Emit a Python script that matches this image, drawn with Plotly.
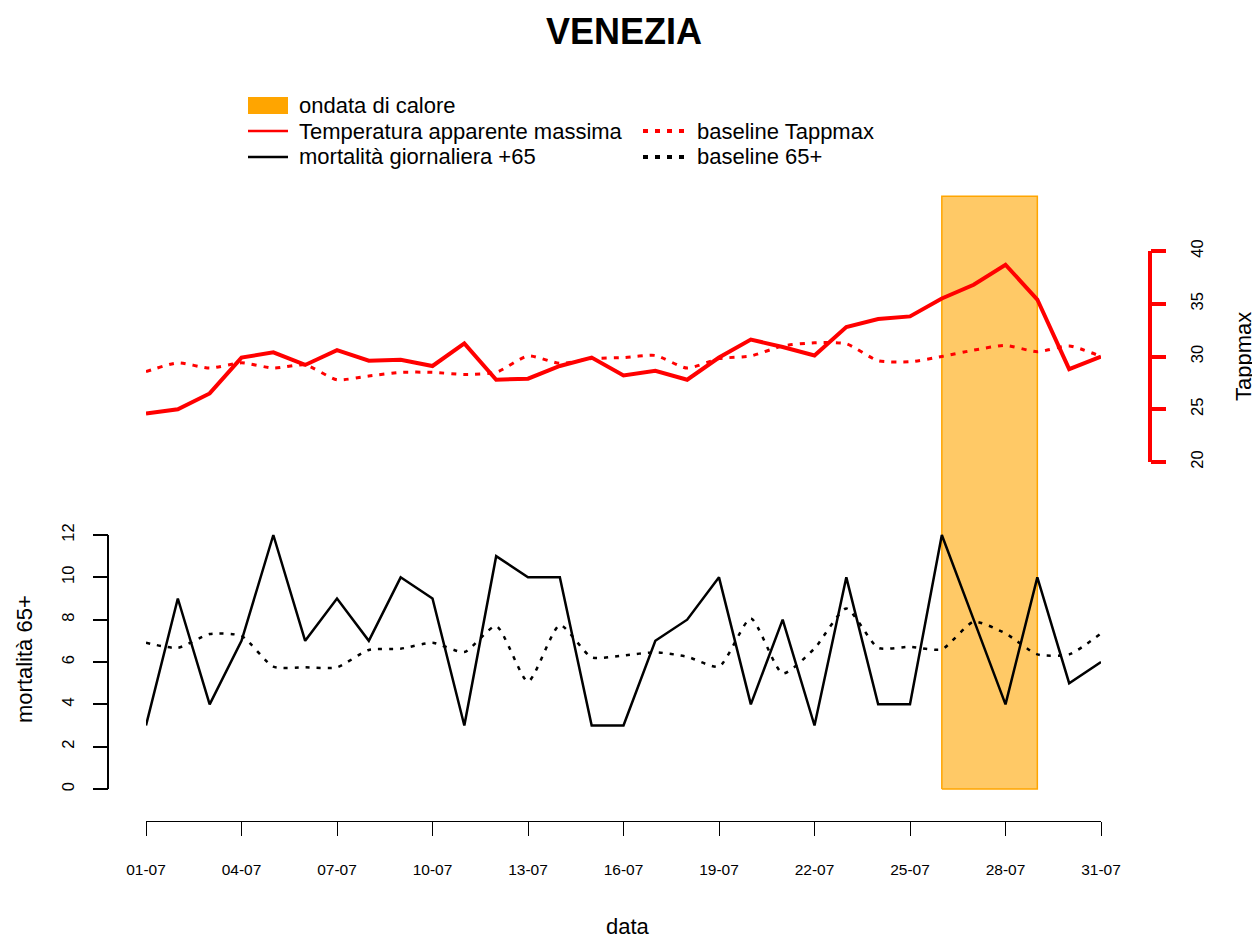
import plotly.graph_objects as go

# giorni di luglio
giorni = list(range(1, 32))
tick_giorni = [1, 4, 7, 10, 13, 16, 19, 22, 25, 28, 31]
tick_labels = ["01-07", "04-07", "07-07", "10-07", "13-07", "16-07",
               "19-07", "22-07", "25-07", "28-07", "31-07"]

# temperatura apparente massima e baseline
tappmax = [24.6, 25.0, 26.5, 29.9, 30.4, 29.2, 30.6, 29.6, 29.7, 29.1, 31.25,
           27.8, 27.9, 29.1, 29.9, 28.2, 28.65, 27.8, 29.9, 31.6, 30.9, 30.1,
           32.8, 33.55, 33.8, 35.5, 36.8, 38.7, 35.4, 28.8, 30.0]
baseline_tappmax = [28.56, 29.4, 28.9, 29.4, 28.9, 29.2, 27.8, 28.15, 28.5, 28.5,
                    28.3, 28.5, 30.05, 29.35, 29.8, 29.9, 30.1, 28.9, 29.8, 30.05,
                    31.0, 31.3, 31.2, 29.6, 29.5, 30.0, 30.6, 31.05, 30.45, 31.0, 30.0]

# mortalità giornaliera 65+ e baseline
mortalita = [3, 9, 4, 7, 12, 7, 9, 7, 10, 9, 3, 11, 10, 10, 3, 3, 7, 8, 10, 4,
             8, 3, 10, 4, 4, 12, 8, 4, 10, 5, 6]
baseline_65 = [6.91, 6.67, 7.32, 7.23, 5.78, 5.75, 5.75, 6.57, 6.63, 6.91, 6.47,
               7.7, 5.07, 7.75, 6.22, 6.31, 6.46, 6.25, 5.78, 8.06, 5.46, 6.64,
               8.53, 6.67, 6.72, 6.6, 7.9, 7.35, 6.36, 6.36, 7.35]

# ondata di calore (giorni), altezza in scala mortalità
ondata_inizio = 26
ondata_fine = 29
ondata_top = 28

mort_ticks = [0, 2, 4, 6, 8, 10, 12]
temp_ticks = [20, 25, 30, 35, 40]

FONT = "Liberation Sans, Arial, sans-serif"

# la pagina ha un margine di 8px: la figura parte da (8, 8)
OFF = 8
W, H = 1260 - OFF, 938 - OFF
L, R = 108 - OFF, 1150 - OFF
T, B = 190 - OFF, 821 - OFF


def px_x(x):
    return (x - OFF - L) / (R - L)


def px_y(y):
    return (B - (y - OFF)) / (B - T)


# scale verticali: 0 -> 789px, 12 -> 535px ; 20 -> 462px, 40 -> 251px
s_m = (789 - 535) / 12
rng_m = [-(B - (789 - OFF)) / s_m, ((789 - OFF) - T) / s_m]
s_t = (462 - 251) / 20
rng_t = [20 - (B - (462 - OFF)) / s_t, 20 + ((462 - OFF) - T) / s_t]

fig = go.Figure()

# rettangolo ondata di calore
fig.add_trace(go.Scatter(
    x=[ondata_inizio, ondata_inizio, ondata_fine, ondata_fine, ondata_inizio],
    y=[0, ondata_top, ondata_top, 0, 0],
    fill="toself", fillcolor="rgba(255,165,0,0.6)",
    line=dict(color="orange", width=1.5), mode="lines",
    yaxis="y", showlegend=False, hoverinfo="skip"
))

fig.add_trace(go.Scatter(
    x=giorni, y=baseline_65, mode="lines", yaxis="y",
    line=dict(color="black", width=2.5, dash="4px,7px", shape="spline", smoothing=0.6),
    name="baseline 65+", showlegend=False
))
fig.add_trace(go.Scatter(
    x=giorni, y=mortalita, mode="lines", yaxis="y",
    line=dict(color="black", width=2.5),
    name="mortalità giornaliera +65", showlegend=False
))
fig.add_trace(go.Scatter(
    x=giorni, y=baseline_tappmax, mode="lines", yaxis="y2",
    line=dict(color="red", width=3, dash="5px,7px", shape="spline", smoothing=0.6),
    name="baseline Tappmax", showlegend=False
))
fig.add_trace(go.Scatter(
    x=giorni, y=tappmax, mode="lines", yaxis="y2",
    line=dict(color="red", width=4),
    name="Temperatura apparente massima", showlegend=False
))

shapes = [
    # linee degli assi y (solo fra il primo e l'ultimo tick, stile R)
    dict(type="line", xref="paper", yref="y", x0=0, x1=0,
         y0=mort_ticks[0], y1=mort_ticks[-1], line=dict(color="black", width=2)),
    dict(type="line", xref="paper", yref="y2", x0=1, x1=1,
         y0=temp_ticks[0], y1=temp_ticks[-1], line=dict(color="red", width=4)),
    # legenda
    dict(type="rect", xref="paper", yref="paper",
         x0=px_x(248), x1=px_x(288), y0=px_y(114), y1=px_y(97),
         fillcolor="orange", line=dict(width=0)),
    dict(type="line", xref="paper", yref="paper",
         x0=px_x(248), x1=px_x(288), y0=px_y(131), y1=px_y(131),
         line=dict(color="red", width=2.5)),
    dict(type="line", xref="paper", yref="paper",
         x0=px_x(248), x1=px_x(288), y0=px_y(157), y1=px_y(157),
         line=dict(color="black", width=2.5)),
    dict(type="line", xref="paper", yref="paper",
         x0=px_x(643), x1=px_x(688), y0=px_y(131), y1=px_y(131),
         line=dict(color="red", width=4, dash="5px,7px")),
    dict(type="line", xref="paper", yref="paper",
         x0=px_x(643), x1=px_x(688), y0=px_y(157), y1=px_y(157),
         line=dict(color="black", width=4, dash="5px,7px")),
]

legend_text = [
    ("ondata di calore", 297, 105),
    ("Temperatura apparente massima", 297, 131),
    ("mortalità giornaliera +65", 297, 157),
    ("baseline Tappmax", 695, 131),
    ("baseline 65+", 695, 157),
]
annotations = [
    dict(text=t, x=px_x(x), y=px_y(y), xref="paper", yref="paper",
         xanchor="left", yanchor="middle", showarrow=False,
         font=dict(size=22, color="black", family=FONT))
    for t, x, y in legend_text
]
annotations += [
    dict(text="mortalità 65+", x=px_x(24), y=px_y(659), xref="paper", yref="paper",
         textangle=-90, xanchor="center", yanchor="middle", showarrow=False,
         font=dict(size=22, color="black", family=FONT)),
    dict(text="Tappmax", x=px_x(1243), y=px_y(357), xref="paper", yref="paper",
         textangle=-90, xanchor="center", yanchor="middle", showarrow=False,
         font=dict(size=22, color="black", family=FONT)),
    dict(text="data", x=px_x(628), y=px_y(926), xref="paper", yref="paper",
         xanchor="center", yanchor="middle", showarrow=False,
         font=dict(size=22, color="black", family=FONT)),
]

fig.update_layout(
    width=W, height=H,
    margin=dict(l=L, r=W - R, t=T, b=H - B, autoexpand=False),
    paper_bgcolor="white", plot_bgcolor="white",
    font=dict(family=FONT, color="black"),
    title=dict(text="<b>VENEZIA</b>", x=(624 - OFF) / W, y=1 - (31 - OFF) / H,
               xanchor="center", yanchor="middle",
               font=dict(size=36, family=FONT, color="black")),
    showlegend=False,
    xaxis=dict(
        domain=[px_x(146), px_x(1101)], range=[1, 31],
        tickvals=tick_giorni, ticktext=tick_labels,
        tickfont=dict(size=15.5), ticks="outside", ticklen=14, tickwidth=1.3,
        tickcolor="black", showline=True, linecolor="black", linewidth=1.3,
        showgrid=False, zeroline=False, ticklabelstandoff=20,
    ),
    yaxis=dict(
        range=rng_m, anchor="free", position=0,
        tickvals=mort_ticks, tickangle=-90, tickfont=dict(size=16.5),
        ticks="outside", ticklen=15, tickwidth=2, tickcolor="black",
        showline=False, showgrid=False, zeroline=False, ticklabelstandoff=12,
    ),
    yaxis2=dict(
        range=rng_t, overlaying="y", side="right", anchor="free", position=1,
        tickvals=temp_ticks, tickangle=-90, tickfont=dict(size=16.5),
        ticks="outside", ticklen=15, tickwidth=4, tickcolor="red",
        showline=False, showgrid=False, zeroline=False, ticklabelstandoff=17,
    ),
    shapes=shapes,
    annotations=annotations,
)

fig.write_html("out.html")
